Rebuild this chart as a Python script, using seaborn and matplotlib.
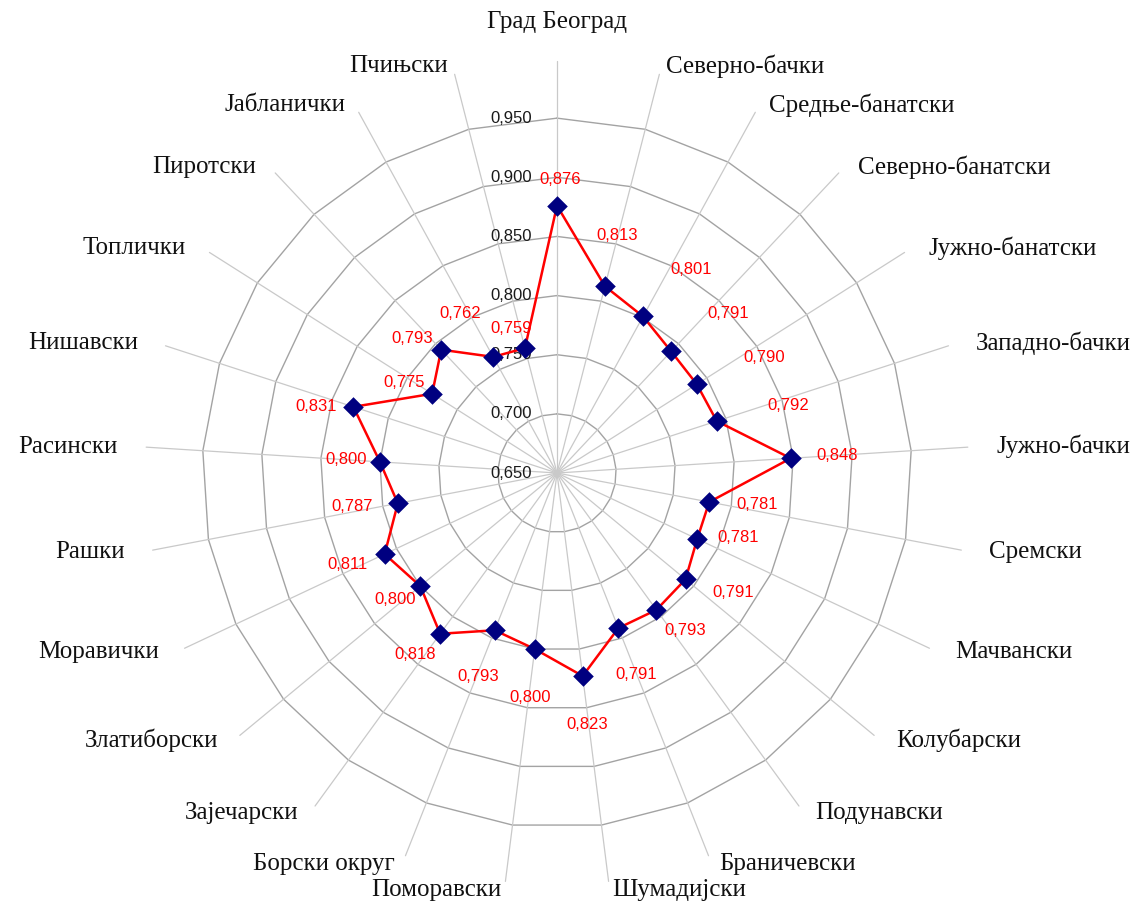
import numpy as np
import pandas as pd
import matplotlib
matplotlib.use('Agg')
import matplotlib.pyplot as plt
import seaborn as sns

# Districts, clockwise from the top
districts = ['Град Београд', 'Северно-бачки', 'Средње-банатски', 'Северно-банатски',
             'Јужно-банатски', 'Западно-бачки', 'Јужно-бачки', 'Сремски', 'Мачвански',
             'Колубарски', 'Подунавски', 'Браничевски', 'Шумадијски', 'Поморавски',
             'Борски округ', 'Зајечарски', 'Златиборски', 'Моравички', 'Рашки',
             'Расински', 'Нишавски', 'Топлички', 'Пиротски', 'Јабланички', 'Пчињски']
values = [0.876, 0.813, 0.801, 0.791, 0.790, 0.792, 0.848, 0.781, 0.781, 0.791,
          0.793, 0.791, 0.823, 0.800, 0.793, 0.818, 0.800, 0.811, 0.787, 0.800,
          0.831, 0.775, 0.793, 0.762, 0.759]
ring_ticks = [0.65, 0.70, 0.75, 0.80, 0.85, 0.90, 0.95]

# label offsets from each point (pixels, right / down)
label_offsets = [(3, -26), (12, -51), (48, -47), (57, -38), (67, -27), (72, -16),
                 (46, -3), (48, 2), (41, -1), (48, 13), (29, 21), (18, 46),
                 (5, 48), (-5, 48), (-17, 46), (-25, 21), (-25, 13), (-37, 10),
                 (-46, 3), (-34, -2), (-37, 0), (-28, -11), (-29, -11), (-33, -43),
                 (-14, -20)]

sns.set_style('white')
plt.rcParams['font.family'] = ['Liberation Sans', 'DejaVu Sans']

n = len(districts)
theta = np.arange(n) * 2 * np.pi / n
r_min, r_max = 0.65, 1.0

fig = plt.figure(figsize=(11.39, 9.01), dpi=100)
ax = fig.add_axes([143 / 1139, 14 / 901, 828 / 1139, 828 / 901], projection='polar')
ax.set_theta_offset(np.pi / 2)
ax.set_theta_direction(-1)
ax.set_ylim(r_min, r_max)
ax.grid(False)
ax.spines['polar'].set_visible(False)
ax.set_xticks([])
ax.set_yticks([])

# polygon rings and spokes like the Excel radar
closed_t = np.append(theta, theta[0])
for rv in ring_ticks[1:]:
    ax.plot(closed_t, np.full(n + 1, rv), color='#A3A3A3', lw=1.0, zorder=1)
for t in theta:
    ax.plot([t, t], [r_min, 0.998], color='#C9C9C9', lw=0.9, zorder=1)

# ring value labels
for rv in ring_ticks:
    ax.annotate(f'{rv:.3f}'.replace('.', ','), xy=(0, rv), xytext=(-25, 0),
                textcoords='offset pixels', ha='right', va='center',
                fontsize=12, color='#1a1a1a', zorder=2)

df = pd.DataFrame({'theta': closed_t, 'value': values + values[:1]})
sns.lineplot(data=df, x='theta', y='value', sort=False, estimator=None,
             color='#FF0000', lw=1.8, ax=ax, zorder=3)
sns.scatterplot(data=df.iloc[:-1], x='theta', y='value', marker='D', s=110,
                color='#000080', edgecolor='#000080', linewidth=0, ax=ax, zorder=4)
ax.set_xlabel('')
ax.set_ylabel('')

for t, v, (dx, dy) in zip(theta, values, label_offsets):
    ax.annotate(f'{v:.3f}'.replace('.', ','), xy=(t, v), xytext=(dx, -dy),
                textcoords='offset pixels', ha='center', va='center',
                fontsize=12, color='#FF0000', zorder=5)

# category labels around the chart
half = 828 / 2
for t, name in zip(theta, districts):
    s, c = np.sin(t), np.cos(t)
    if abs(s) < 1e-6:
        x, y, ha = 0.5, 0.5 + 451 * c / 828, 'center'
    else:
        x = 0.5 + 440 * s / 828
        y = 0.5 + 420 * c / 828
        ha = 'left' if s > 0 else 'right'
    ax.text(x, y, name, transform=ax.transAxes, ha=ha, va='center',
            fontsize=18, family=['Liberation Serif', 'DejaVu Serif'], color='#111111')

fig.savefig('out.png', dpi=100)
